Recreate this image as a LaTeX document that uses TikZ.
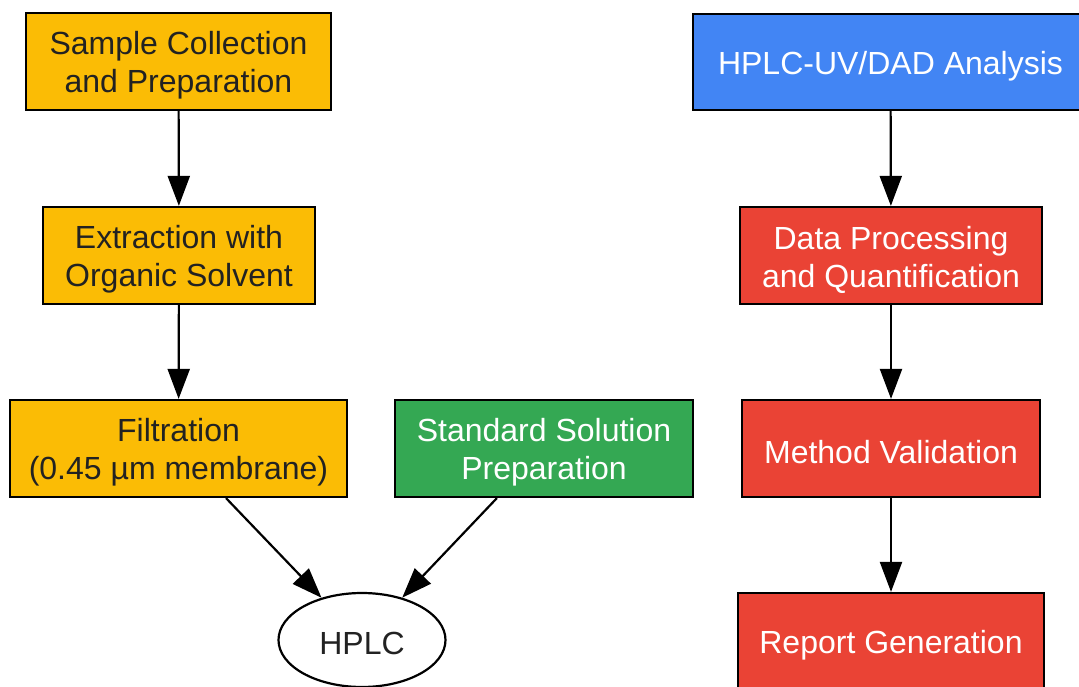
\documentclass[tikz,border=0pt]{standalone}
\usepackage{fontspec}
\setmainfont{Liberation Sans}
\usetikzlibrary{shapes.geometric,arrows.meta}
\definecolor{gyellow}{HTML}{FBBC05}
\definecolor{gblue}{HTML}{4285F4}
\definecolor{ggreen}{HTML}{34A853}
\definecolor{gred}{HTML}{EA4335}
\definecolor{dtext}{HTML}{222222}
\begin{document}
\begin{tikzpicture}[x=1pt,y=-1pt,
  txt/.style={align=center,inner sep=0pt,yshift=-4pt,font=\fontsize{32}{38}\selectfont},
  box/.style={draw=black,line width=2.2pt,rectangle,inner sep=0pt},
  ybox/.style={box,fill=gyellow,label={[txt,text=dtext]center:#1}},
  bbox/.style={box,fill=gblue,label={[txt,text=white]center:#1}},
  gbox/.style={box,fill=ggreen,label={[txt,text=white]center:#1}},
  rbox/.style={box,fill=gred,label={[txt,text=white]center:#1}},
  oval/.style={draw=black,line width=2.2pt,ellipse,fill=white,inner sep=0pt,
    label={[txt,text=dtext,yshift=1pt]center:#1}},
  conn/.style={draw=black,line width=2.2pt,-{Triangle[length=30pt,width=22pt]}}]
\useasboundingbox (0,0) rectangle (1079,687);
\node[ybox={Sample Collection\\and Preparation},minimum width=305pt,minimum height=97pt] (sample) at (178.5,61.5) {};
\node[ybox={Extraction with\\Organic Solvent},minimum width=272pt,minimum height=97pt] (extr) at (179,255.5) {};
\node[ybox={Filtration\\(0.45 µm membrane)},minimum width=337pt,minimum height=97pt] (filt) at (178.5,448.5) {};
\node[gbox={Standard Solution\\Preparation},minimum width=298pt,minimum height=97pt] (std) at (544,448.5) {};
\node[oval={HPLC},minimum width=167pt,minimum height=94pt] (hplc) at (362,640) {};
\node[bbox={HPLC-UV/DAD Analysis},minimum width=395pt,minimum height=96pt] (uv) at (890.5,62) {};
\node[rbox={Data Processing\\and Quantification},minimum width=302pt,minimum height=97pt] (data) at (891,255.5) {};
\node[rbox={Method Validation},minimum width=298pt,minimum height=97pt] (valid) at (891,448.5) {};
\node[rbox={Report Generation},minimum width=306pt,minimum height=97pt] (report) at (891,641.5) {};
\draw[conn] (sample) -- (extr);
\draw[conn] (extr) -- (filt);
\draw[conn] (filt) -- (hplc);
\draw[conn] (std) -- (hplc);
\draw[conn] (uv) -- (data);
\draw[conn] (data) -- (valid);
\draw[conn] (valid) -- (report);
\end{tikzpicture}
\end{document}
